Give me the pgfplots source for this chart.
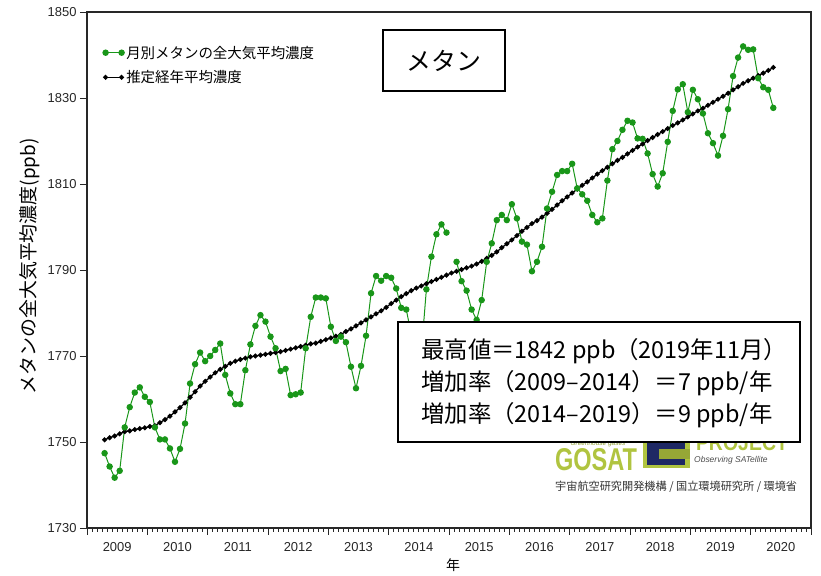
\documentclass[border=0pt]{standalone}
\usepackage{fontspec}
\setmainfont{Liberation Sans}
\newfontfamily\cjk{Noto Sans CJK JP}
\usepackage{graphicx}
\usepackage{pgfplots}
\usepackage{pgfplotstable}
\pgfplotsset{compat=1.18}
\definecolor{ggreen}{RGB}{25,150,25}
\definecolor{framec}{RGB}{40,40,40}
\definecolor{logogreen}{RGB}{176,196,64}
\definecolor{logonavy}{RGB}{30,40,100}

% x = month index from Jan 2009 (month centres), g = monthly mean, t = trend
\pgfplotstableread{
x g t
3.5 1747.4 1750.5
4.5 1744.3 1751.0
5.5 1741.7 1751.4
6.5 1743.3 1751.9
7.5 1753.4 1752.4
8.5 1758.1 1752.6
9.5 1761.5 1752.9
10.5 1762.7 1753.1
11.5 1760.5 1753.3
12.5 1759.3 1753.6
13.5 1753.4 1753.8
14.5 1750.6 1754.5
15.5 1750.6 1755.2
16.5 1748.5 1756.0
17.5 1745.4 1757.0
18.5 1748.4 1758.0
19.5 1754.3 1759.1
20.5 1763.6 1760.4
21.5 1768.1 1761.7
22.5 1770.8 1763.0
23.5 1768.8 1764.1
24.5 1770.0 1765.1
25.5 1771.4 1766.1
26.5 1772.9 1766.9
27.5 1765.6 1767.6
28.5 1761.3 1768.3
29.5 1758.8 1768.8
30.5 1758.8 1769.2
31.5 1766.7 1769.5
32.5 1772.7 1769.8
33.5 1777.0 1770.0
34.5 1779.5 1770.2
35.5 1778.0 1770.4
36.5 1774.5 1770.6
37.5 1771.8 1770.8
38.5 1766.5 1771.0
39.5 1767.0 1771.3
40.5 1760.9 1771.6
41.5 1761.1 1771.9
42.5 1761.5 1772.2
43.5 1771.8 1772.5
44.5 1779.1 1772.8
45.5 1783.6 1773.0
46.5 1783.6 1773.4
47.5 1783.4 1773.8
48.5 1776.8 1774.2
49.5 1773.5 1774.6
50.5 1774.5 1775.0
51.5 1773.2 1775.7
52.5 1767.5 1776.3
53.5 1762.5 1777.0
54.5 1767.7 1777.7
55.5 1774.7 1778.4
56.5 1784.6 1779.1
57.5 1788.6 1779.8
58.5 1787.5 1780.5
59.5 1788.6 1781.3
60.5 1788.2 1782.2
61.5 1785.7 1783.0
62.5 1781.2 1783.8
63.5 1780.8 1784.5
64.5 1775.0 1785.2
65.5 1769.0 1785.8
66.5 1771.0 1786.3
67.5 1785.5 1786.8
68.5 1793.1 1787.3
69.5 1798.3 1787.8
70.5 1800.6 1788.3
71.5 1798.7 1788.8
72.5 nan 1789.3
73.5 1791.9 1789.7
74.5 1787.4 1790.1
75.5 1785.2 1790.5
76.5 1780.8 1790.9
77.5 1778.4 1791.4
78.5 1783.0 1792.0
79.5 1791.9 1792.7
80.5 1796.2 1793.4
81.5 1801.6 1794.2
82.5 1802.8 1795.2
83.5 1801.6 1796.1
84.5 1805.3 1797.0
85.5 1802.0 1798.0
86.5 1796.6 1799.0
87.5 1795.9 1799.9
88.5 1789.7 1800.8
89.5 1791.9 1801.5
90.5 1795.4 1802.3
91.5 1804.3 1803.2
92.5 1808.2 1804.1
93.5 1812.1 1805.1
94.5 1813.0 1806.1
95.5 1813.0 1807.0
96.5 1814.7 1807.9
97.5 1809.0 1808.8
98.5 1807.6 1809.7
99.5 1806.1 1810.5
100.5 1802.8 1811.4
101.5 1801.1 1812.3
102.5 1802.0 1813.1
103.5 1810.8 1813.9
104.5 1818.1 1814.7
105.5 1820.0 1815.5
106.5 1822.6 1816.2
107.5 1824.7 1817.0
108.5 1824.3 1817.8
109.5 1820.6 1818.6
110.5 1820.5 1819.3
111.5 1817.1 1820.1
112.5 1812.3 1820.8
113.5 1809.4 1821.5
114.5 1812.5 1822.2
115.5 1819.8 1822.9
116.5 1827.0 1823.6
117.5 1832.0 1824.2
118.5 1833.2 1824.9
119.5 1826.7 1825.6
120.5 1831.9 1826.3
121.5 1829.7 1827.0
122.5 1826.4 1827.6
123.5 1821.8 1828.3
124.5 1819.5 1829.0
125.5 1816.6 1829.7
126.5 1821.2 1830.4
127.5 1827.4 1831.1
128.5 1835.1 1831.9
129.5 1839.4 1832.6
130.5 1842.0 1833.4
131.5 1841.2 1834.0
132.5 1841.3 1834.6
133.5 1834.6 1835.2
134.5 1832.5 1835.8
135.5 1831.9 1836.4
136.5 1827.7 1837.1
}\chdata

\begin{document}
\begin{tikzpicture}[x=1bp,y=1bp]
\path[use as bounding box] (-87,-48) rectangle (734,528);
\begin{axis}[
  at={(0,0)}, anchor=south west,
  scale only axis, width=724bp, height=516bp,
  xmin=0, xmax=144, ymin=1730, ymax=1850,
  axis line style={framec, line width=1.3bp},
  xtick={0,12,...,144},
  xticklabels={2009,2010,2011,2012,2013,2014,2015,2016,2017,2018,2019,2020},
  x tick label as interval,
  minor xtick={0,1,...,144},
  ytick={1730,1750,...,1850},
  tick pos=left,
  tick align=outside,
  major tick length=7bp, minor tick length=4bp,
  tick style={framec, line width=0.8bp},
  /pgf/number format/assume math mode=true,
  /pgf/number format/1000 sep={},
  tick label style={font=\fontsize{13}{15}\selectfont, text=black!85},
  xticklabel style={yshift=-3.5bp},
  xlabel={\cjk 年},
  ylabel={\cjk メタンの全大気平均濃度(ppb)},
  every axis x label/.style={at={(axis description cs:0.5055,-0.0717)}, anchor=center, font=\fontsize{14}{16}\selectfont},
  every axis y label/.style={at={(axis description cs:-0.0787,0.507)}, rotate=90, anchor=center, font=\fontsize{19}{20}\selectfont},
  unbounded coords=jump,
  reverse legend,
  legend cell align=left,
  legend style={at={(axis description cs:0.0217,0.9386)}, anchor=north west, draw=none, fill=none, inner sep=0pt, row sep=7bp, font=\cjk\fontsize{14.5}{16}\selectfont, /tikz/every even column/.append style={column sep=9bp}},
  legend image code/.code={\draw[#1] plot coordinates {(0bp,0bp) (16bp,0bp)};},
]
\addplot[black, line width=1.3bp, mark=*, mark size=1.8bp] table[x=x, y=t] {\chdata};
\addlegendentry{推定経年平均濃度}
\addplot[ggreen, line width=1bp, mark=*, mark size=2.7bp, mark options={fill=ggreen, draw=ggreen}] table[x=x, y=g] {\chdata};
\addlegendentry{月別メタンの全大気平均濃度}
\end{axis}

% logo area (partly covered by the info box)
\node[anchor=center, text=logogreen!80!black, font=\itshape\fontsize{6.5}{7}\selectfont] at (511,84) {Greenhouse gases};
\node[anchor=center, text=logogreen, inner sep=0pt] at (509,68.5) {\resizebox{82bp}{22bp}{\bfseries GOSAT}};
\fill[logogreen] (556,60) rectangle (603,88);
\fill[logonavy] (560,63) rectangle (598,85);
\fill[logogreen!85!black] (572,69) rectangle (603,79);
\node[anchor=center, text=logogreen, inner sep=0pt] at (655,85) {\resizebox{92bp}{16bp}{\bfseries PROJECT}};
\node[anchor=west, text=black!70, font=\itshape\fontsize{8.5}{9}\selectfont, inner sep=0pt] at (607,68) {Observing SATellite};
\node[anchor=west, text=black!80, font=\cjk\fontsize{11.2}{12}\selectfont, inner sep=0pt] at (468,41) {宇宙航空研究開発機構 / 国立環境研究所 / 環境省};

% title box
\draw[black, line width=1.5bp, fill=white] (296,498) rectangle (418,437);
\node[font=\cjk\fontsize{25}{28}\selectfont] at (357,467.5) {メタン};

% info box
\draw[black, line width=2bp, fill=white] (311,206) rectangle (713,86);
\begin{scope}[every node/.style={anchor=west, inner sep=0pt, font=\cjk\fontsize{23.5}{25}\selectfont}]
\node at (334,177) {最高値＝1842 ppb（2019年11月）};
\node at (334,145) {増加率（2009–2014）＝7 ppb/年};
\node at (334,113) {増加率（2014–2019）＝9 ppb/年};
\end{scope}
\end{tikzpicture}
\end{document}
